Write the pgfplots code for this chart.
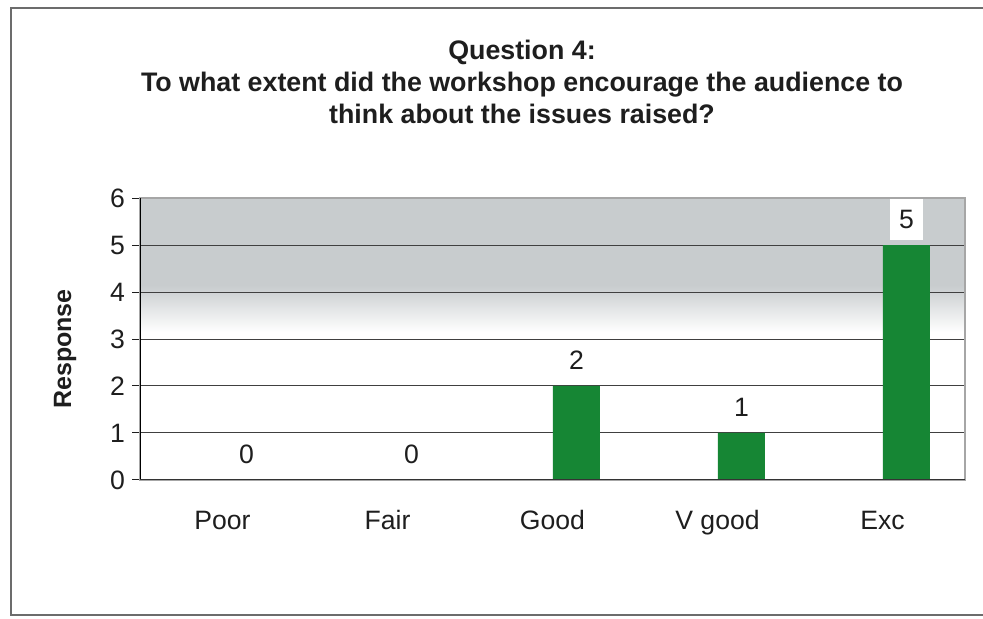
\documentclass[border=0pt]{standalone}
\usepackage{pgfplots}
\pgfplotsset{compat=1.18}
\usepackage{fontspec}
\setmainfont{Liberation Sans}
\definecolor{bargreen}{RGB}{22,134,52}
\definecolor{bggray}{RGB}{200,204,206}
\definecolor{txt}{RGB}{30,30,30}
\pgfdeclareverticalshading{bgshade}{100bp}{color(0bp)=(white); color(51.2bp)=(white); color(59.5bp)=(bggray); color(100bp)=(bggray)}
\begin{document}
\begin{tikzpicture}
\useasboundingbox (0,0) rectangle (491.5pt,309.5pt);
\draw[gray!85!black, line width=1pt] (510pt,305.5pt) -- (5.5pt,305.5pt) -- (5.5pt,2pt) -- (510pt,2pt);
\node[align=center, font=\fontsize{13.4}{16}\selectfont\bfseries, text=txt] at (261pt,268.5pt)
  {Question 4:\\To what extent did the workshop encourage the audience to\\think about the issues raised?};
\node[rotate=90, font=\fontsize{12.5}{15}\selectfont\bfseries, text=txt] at (32.5pt,135pt) {Response};
\begin{axis}[
  scale only axis,
  at={(70pt,69.5pt)}, anchor=south west,
  width=412.5pt, height=141pt,
  axis background/.style={shade, shading=bgshade},
  xmin=-0.5, xmax=4.5, ymin=0, ymax=6,
  ytick={0,1,...,6},
  xtick={0,1,2,3,4},
  xticklabels={Poor,Fair,Good,V good,Exc},
  major x tick style={draw=none},
  extra x ticks={-0.5,0.5,1.5,2.5,3.5,4.5},
  extra x tick labels={},
  extra x tick style={tick align=outside, major tick length=4pt, tick style={draw=txt, line width=0.5pt}, xtick pos=bottom},
  ytick pos=left,
  ytick align=outside,
  major tick length=4pt,
  ytick style={draw=txt, line width=0.5pt},
  ymajorgrids,
  grid style={draw=black!75, line width=0.5pt},
  axis line style={draw=gray!70, line width=0.6pt},
  tick label style={font=\fontsize{13.3}{15}\selectfont, text=txt},
  xticklabel style={anchor=base, yshift=-21pt},
  yticklabel style={anchor=east, xshift=0pt},
  /pgf/number format/assume math mode=true,
  ybar, bar width=0.285, bar shift=0pt,
  nodes near coords,
  nodes near coords style={anchor=south, yshift=2.5pt, fill=white, inner xsep=4.5pt, inner ysep=5.5pt, font=\fontsize{13.3}{15}\selectfont, text=txt},
]
\addplot[fill=bargreen, draw=none] coordinates {(0.145,0) (1.145,0) (2.145,2) (3.145,1) (4.145,5)};
\draw[black, line width=0.8pt] (axis cs:-0.5,0) -- (axis cs:-0.5,6);
\draw[black!80, line width=0.8pt] (axis cs:-0.5,0) -- (axis cs:4.5,0);
\end{axis}
\end{tikzpicture}
\end{document}
